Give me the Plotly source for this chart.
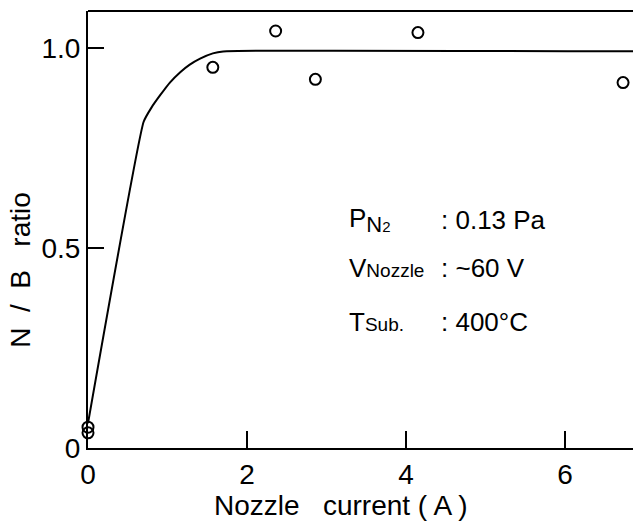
import plotly.graph_objects as go

# measured data points (Nozzle current in A, N/B ratio)
pts_x = [0.0, 0.0, 1.57, 2.36, 2.86, 4.15, 6.73]
pts_y = [0.052, 0.038, 0.952, 1.043, 0.922, 1.039, 0.914]

# guide curve
curve_x = [0.0, 0.70, 0.80, 0.91, 1.03, 1.16, 1.28, 1.41, 1.57, 1.70, 6.9]
curve_y = [0.062, 0.816, 0.852, 0.883, 0.914, 0.940, 0.959, 0.974, 0.987, 0.992, 0.992]

x_ticks = [0, 2, 4, 6]
y_ticks = [0, 0.5, 1.0]
y_tick_text = ["0", "0.5", "1.0"]

FONT = "Liberation Sans Narrow, Liberation Sans, Arial, sans-serif"
TXT = "Liberation Sans, Arial, sans-serif"

fig = go.Figure()
fig.add_trace(go.Scatter(x=curve_x, y=curve_y, mode="lines",
                         line=dict(color="black", width=2, shape="spline", smoothing=0.4),
                         cliponaxis=False, showlegend=False, hoverinfo="skip"))
fig.add_trace(go.Scatter(x=pts_x, y=pts_y, mode="markers",
                         marker=dict(symbol="circle-open", size=11, color="black",
                                     line=dict(width=2, color="black")),
                         cliponaxis=False, showlegend=False))

fig.update_layout(
    width=633, height=522,
    margin=dict(l=88, r=0, t=11, b=74),
    paper_bgcolor="white", plot_bgcolor="white",
    xaxis=dict(range=[0, 6.855], tickvals=x_ticks, ticktext=[str(v) for v in x_ticks],
               ticks="inside", ticklen=17, tickwidth=2, tickcolor="black",
               showline=True, linecolor="black", linewidth=2, mirror=False,
               showgrid=False, zeroline=False,
               tickfont=dict(family=FONT, size=28, color="black")),
    yaxis=dict(range=[0, 1.093], tickvals=y_ticks, ticktext=y_tick_text,
               ticks="inside", ticklen=16, tickwidth=2, tickcolor="black",
               showline=True, linecolor="black", linewidth=2,
               showgrid=False, zeroline=False, ticklabelstandoff=0,
               tickfont=dict(family=FONT, size=28, color="black")),
    shapes=[dict(type="line", xref="paper", yref="paper", x0=0, x1=1, y0=1, y1=1,
                 line=dict(color="black", width=2))],
    font=dict(family=TXT, color="black"),
)

ann = [
    dict(text="N  /  B   ratio", x=21, y=270, textangle=-90, size=28),
    dict(text="Nozzle   current ( A )", x=341, y=506, textangle=0, size=28),
]
for a in ann:
    fig.add_annotation(text=a["text"], xref="paper", yref="paper",
                       x=(a["x"] - 88) / 545,
                       y=(448.3 - a["y"]) / 437.3,
                       showarrow=False, textangle=a["textangle"],
                       font=dict(family=TXT, size=a["size"], color="black"),
                       xanchor="center", yanchor="middle")

labels = ["P<sub><span style='font-size:22px'>N</span><span style='font-size:15px'>2</span></sub>",
          "V<span style='font-size:19px'>Nozzle</span>",
          "T<span style='font-size:19px'>Sub.</span>"]
values = [": 0.13 Pa", ": ~60 V", ": 400°C"]
rows_y = [220, 268, 322]
for lab, val, py in zip(labels, values, rows_y):
    fig.add_annotation(text=lab, xref="paper", yref="paper",
                       x=(347 - 88) / 545, y=(448.3 - py) / 437.3,
                       showarrow=False, xanchor="left", yanchor="middle",
                       font=dict(family=TXT, size=26, color="black"))
    fig.add_annotation(text=val, xref="paper", yref="paper",
                       x=(439 - 88) / 545, y=(448.3 - py) / 437.3,
                       showarrow=False, xanchor="left", yanchor="middle",
                       font=dict(family=TXT, size=26, color="black"))

fig.write_html("out.html")
